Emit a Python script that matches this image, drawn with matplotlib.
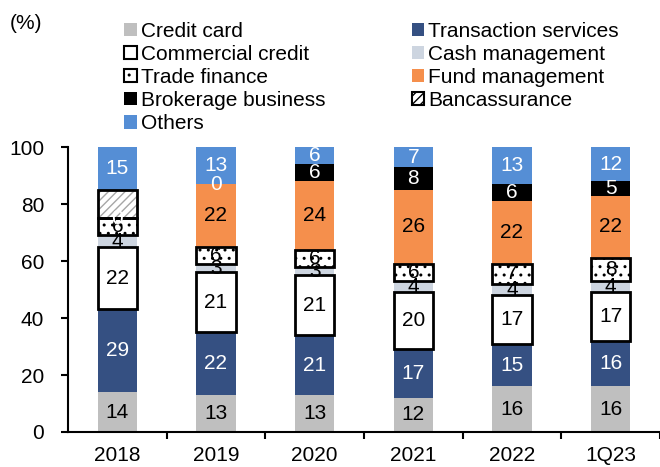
import matplotlib.pyplot as plt
from matplotlib.patches import Patch
import numpy as np

plt.rcParams['font.family'] = ['Liberation Sans', 'DejaVu Sans']

years = ['2018', '2019', '2020', '2021', '2022', '1Q23']

# share of fee income (%), bottom to top
credit_card = [14, 13, 13, 12, 16, 16]
transaction = [29, 22, 21, 17, 15, 16]
commercial = [22, 21, 21, 20, 17, 17]
cash_mgmt = [4, 3, 3, 4, 4, 4]
trade_fin = [6, 6, 6, 6, 7, 8]
fund_mgmt = [0, 22, 24, 26, 22, 22]
brokerage = [0, 0, 6, 8, 6, 5]
bancassurance = [10, 0, 0, 0, 0, 0]
others = [15, 13, 6, 7, 13, 12]

# name, values, face, hatch, hatch colour, edge, label colour, show zero label
series = [
    ('Credit card', credit_card, '#BFBFBF', None, None, False, 'black', False),
    ('Transaction services', transaction, '#355082', None, None, False, 'white', False),
    ('Commercial credit', commercial, 'white', None, None, True, 'black', False),
    ('Cash management', cash_mgmt, '#CDD5E0', None, None, False, 'black', False),
    ('Trade finance', trade_fin, 'white', '..', 'black', True, 'black', False),
    ('Fund management', fund_mgmt, '#F58F4C', None, None, False, 'black', False),
    ('Brokerage business', brokerage, 'black', None, None, False, 'white', True),
    ('Bancassurance', bancassurance, 'white', '////', '#A6A6A6', True, None, False),
    ('Others', others, '#558ED5', None, None, False, 'white', False),
]

fig = plt.figure(figsize=(6.6, 4.67), dpi=100)
ax = fig.add_axes([0.103, 0.075, 0.897, 0.61])

x = np.arange(len(years))
w = 0.4
bottom = np.zeros(len(years))
handles = []
for name, vals, face, hatch, hcol, edged, tcol, zero_lab in series:
    vals = np.array(vals, dtype=float)
    keep = vals > 0
    if hatch:
        ax.bar(x[keep], vals[keep], w, bottom=bottom[keep], color=face,
               hatch=hatch, edgecolor=hcol, linewidth=0, zorder=2)
    else:
        ax.bar(x[keep], vals[keep], w, bottom=bottom[keep], color=face,
               linewidth=0, zorder=2)
    if edged:
        ax.bar(x[keep], vals[keep], w, bottom=bottom[keep], fill=False,
               edgecolor='black', linewidth=2, zorder=3)
    if tcol:
        for i in range(len(years)):
            if vals[i] > 0 or zero_lab:
                ax.text(x[i], bottom[i] + vals[i] / 2, '%d' % vals[i],
                        ha='center', va='center', fontsize=15, color=tcol,
                        zorder=5)
    if hatch:
        handles.append(Patch(facecolor=face, edgecolor='black', hatch=hatch,
                             linewidth=1.5, label=name))
    elif edged:
        handles.append(Patch(facecolor=face, edgecolor='black',
                             linewidth=1.5, label=name))
    else:
        handles.append(Patch(facecolor=face, label=name))
    bottom += vals

ax.set_xlim(-0.5, 5.5)
ax.set_ylim(0, 100)
ax.set_yticks(range(0, 101, 20))
ax.set_xticks(x)
ax.set_xticklabels(years)
ax.set_xticks(np.arange(0.5, 5.6, 1), minor=True)
ax.tick_params(axis='x', which='major', length=0, pad=10, labelsize=15)
ax.tick_params(axis='x', which='minor', length=5, width=1.5, direction='out')
ax.tick_params(axis='y', length=5, width=1.5, direction='out', labelsize=15, pad=12)
for s in ['top', 'right']:
    ax.spines[s].set_visible(False)
for s in ['left', 'bottom']:
    ax.spines[s].set_linewidth(1.5)

fig.text(0.015, 0.95, '(%)', fontsize=15, va='center')

# legend reads across rows, matplotlib fills columns first
order = [0, 2, 4, 6, 8, 1, 3, 5, 7]
fig.legend(handles=[handles[i] for i in order], ncol=2, loc='upper left',
           bbox_to_anchor=(0.166, 0.985), frameon=False, fontsize=15,
           handlelength=0.6, handleheight=0.6, handletextpad=0.2,
           labelspacing=0.2, columnspacing=4.15, borderpad=0.2)

fig.savefig('out.png', dpi=100)
